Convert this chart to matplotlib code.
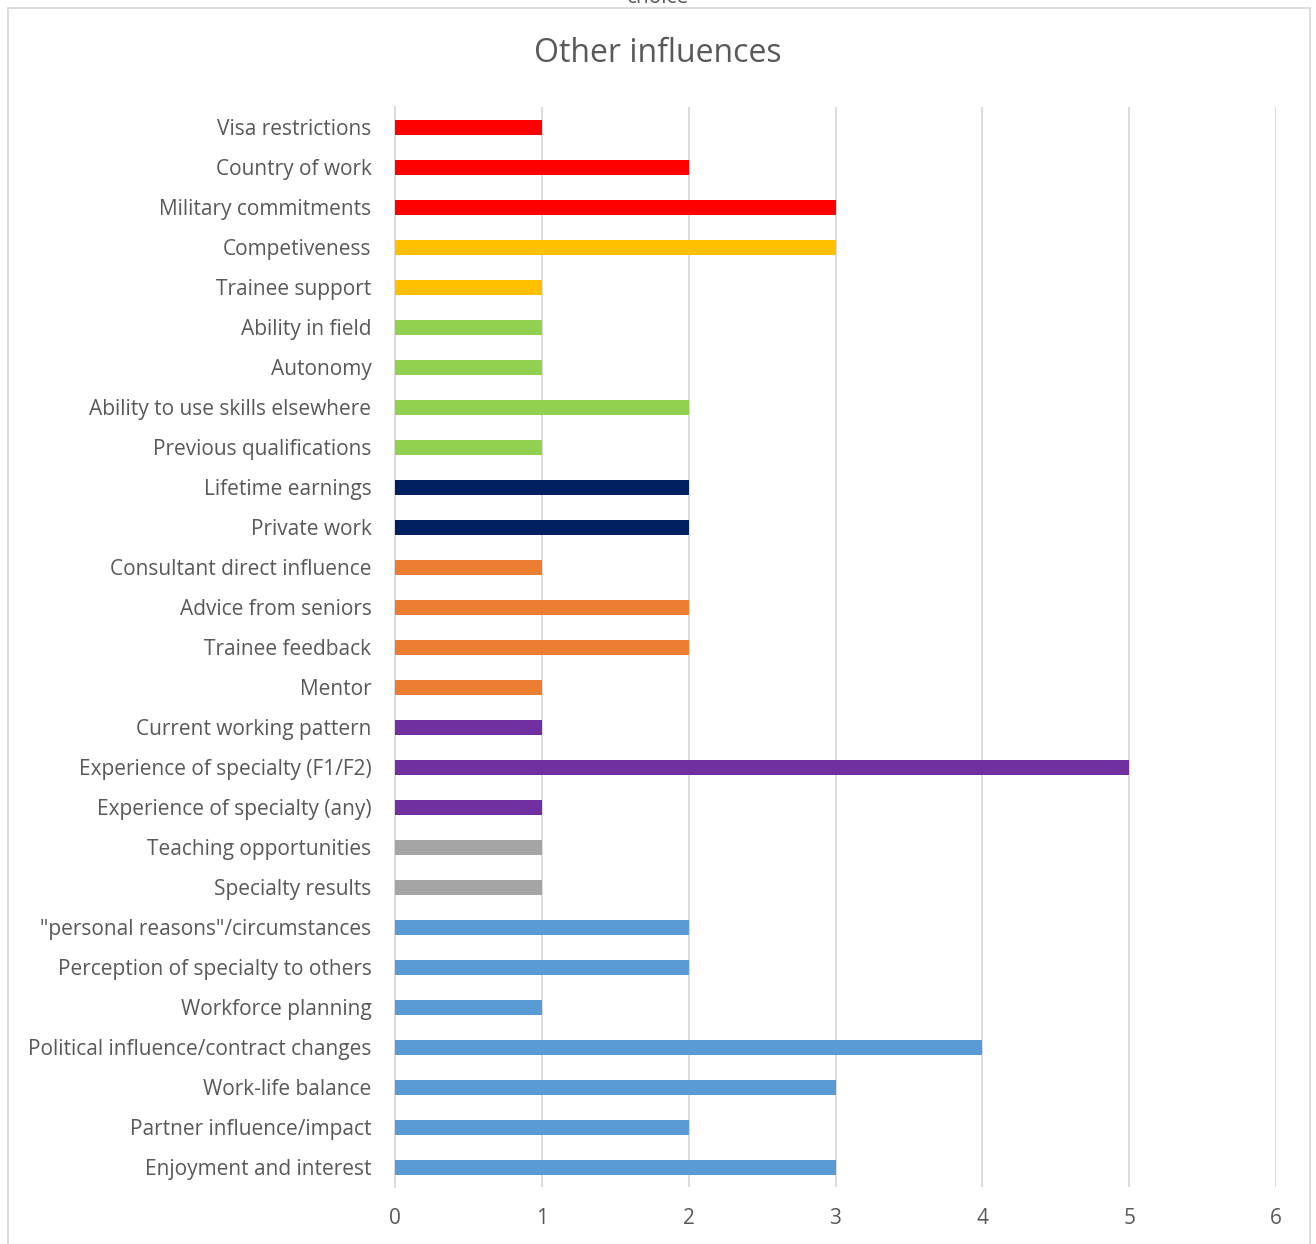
import matplotlib
matplotlib.use('Agg')
import matplotlib.pyplot as plt
from matplotlib.patches import Rectangle

# Influence categories, listed top to bottom
labels = [
    'Visa restrictions', 'Country of work', 'Military commitments',
    'Competiveness', 'Trainee support',
    'Ability in field', 'Autonomy', 'Ability to use skills elsewhere', 'Previous qualifications',
    'Lifetime earnings', 'Private work',
    'Consultant direct influence', 'Advice from seniors', 'Trainee feedback', 'Mentor',
    'Current working pattern', 'Experience of specialty (F1/F2)', 'Experience of specialty (any)',
    'Teaching opportunities', 'Specialty results',
    '"personal reasons"/circumstances', 'Perception of specialty to others', 'Workforce planning',
    'Political influence/contract changes', 'Work-life balance', 'Partner influence/impact',
    'Enjoyment and interest',
]
counts = [1, 2, 3,
          3, 1,
          1, 1, 2, 1,
          2, 2,
          1, 2, 2, 1,
          1, 5, 1,
          1, 1,
          2, 2, 1, 4, 3, 2, 3]
groups = ['red'] * 3 + ['gold'] * 2 + ['green'] * 4 + ['navy'] * 2 + ['orange'] * 4 + \
         ['purple'] * 3 + ['grey'] * 2 + ['blue'] * 7
xticks = [0, 1, 2, 3, 4, 5, 6]

palette = {'red': '#FF0000', 'gold': '#FFC000', 'green': '#92D050', 'navy': '#002060',
           'orange': '#ED7D31', 'purple': '#7030A0', 'grey': '#A5A5A5', 'blue': '#5B9BD5'}

plt.rcParams['font.family'] = ['Open Sans', 'DejaVu Sans']
text_col = '#595959'

fig = plt.figure(figsize=(13.16, 12.44), dpi=100)
ax = fig.add_axes([395 / 1316, 1 - 1187 / 1244, (1276 - 395) / 1316, 1080 / 1244])

pos = list(range(len(labels)))
ax.barh(pos, counts, height=0.375, color=[palette[g] for g in groups], zorder=3)
ax.set_ylim(len(labels) - 0.5, -0.5)
ax.set_xlim(0, 6)
ax.set_yticks(pos)
ax.set_yticklabels(labels)
ax.set_xticks(xticks)
ax.xaxis.grid(True, color='#D9D9D9', linewidth=1.3, zorder=0)
ax.tick_params(axis='both', length=0, labelsize=15, colors=text_col)
ax.tick_params(axis='y', pad=17)
ax.tick_params(axis='x', pad=15)
for s in ['top', 'right', 'bottom']:
    ax.spines[s].set_visible(False)
ax.spines['left'].set_color('#D9D9D9')
ax.spines['left'].set_linewidth(1.3)

fig.text(0.5, 1 - 54 / 1244, 'Other influences', ha='center', va='center',
         fontsize=23, color=text_col)
# remnant of the preceding caption, cut off at the top edge
fig.text(0.5, 1 - 3 / 1244, 'choice', ha='center', va='baseline', fontsize=15, color=text_col)

# chart area border
fig.patches.append(Rectangle((8 / 1316, -0.01), (1310 - 8) / 1316, 1.01 - 8 / 1244,
                             transform=fig.transFigure, fill=False,
                             edgecolor='#D9D9D9', linewidth=1.3))

fig.savefig('out.png', dpi=100)
